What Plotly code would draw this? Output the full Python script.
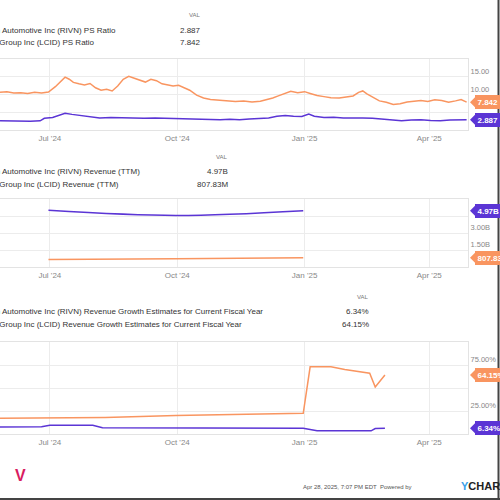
import plotly.graph_objects as go

# --- data --------------------------------------------------------------
ps_dates_lcid = [
    "2024-05-26", "2024-05-31", "2024-06-05", "2024-06-10", "2024-06-15", "2024-06-20",
    "2024-06-25", "2024-06-30", "2024-07-05", "2024-07-09", "2024-07-12", "2024-07-15",
    "2024-07-18", "2024-07-22", "2024-07-26", "2024-07-30", "2024-08-03", "2024-08-07",
    "2024-08-11", "2024-08-15", "2024-08-19", "2024-08-23", "2024-08-27", "2024-08-31",
    "2024-09-04", "2024-09-08", "2024-09-12", "2024-09-16", "2024-09-20", "2024-09-24",
    "2024-09-28", "2024-10-02", "2024-10-06", "2024-10-10", "2024-10-15", "2024-10-20",
    "2024-10-25", "2024-10-31", "2024-11-06", "2024-11-12", "2024-11-18", "2024-11-24",
    "2024-11-30", "2024-12-05", "2024-12-09", "2024-12-13", "2024-12-18", "2024-12-22",
    "2024-12-27", "2025-01-01", "2025-01-05", "2025-01-10", "2025-01-15", "2025-01-20",
    "2025-01-26", "2025-01-31", "2025-02-05", "2025-02-09", "2025-02-12", "2025-02-15",
    "2025-02-19", "2025-02-24", "2025-03-01", "2025-03-06", "2025-03-11", "2025-03-16",
    "2025-03-21", "2025-03-26", "2025-03-31", "2025-04-05", "2025-04-10", "2025-04-15",
    "2025-04-20", "2025-04-24", "2025-04-28",
]
ps_lcid = [
    10.6, 10.8, 10.4, 10.5, 10.3, 10.6, 10.4, 10.7, 12.2, 13.6, 14.9, 14.3,
    13.4, 13.0, 12.7, 13.1, 11.9, 11.2, 11.5, 11.0, 12.4, 14.3, 15.1, 14.6,
    14.0, 13.5, 14.3, 13.9, 13.0, 12.6, 12.4, 12.6, 11.9, 11.2, 9.8, 9.0,
    8.6, 8.4, 8.1, 8.0, 8.2, 7.9, 8.1, 8.5, 9.0, 9.6, 10.4, 10.9,
    10.5, 10.8, 10.3, 9.7, 9.4, 9.1, 9.0, 9.3, 9.6, 10.6, 11.0, 10.2,
    9.2, 8.2, 7.8, 7.2, 7.4, 7.9, 8.1, 8.3, 8.0, 8.5, 8.3, 7.8,
    8.2, 8.6, 7.842,
]
ps_dates_rivn = [
    "2024-05-26", "2024-06-03", "2024-06-10", "2024-06-17", "2024-06-24", "2024-06-27",
    "2024-07-03", "2024-07-09", "2024-07-12", "2024-07-17", "2024-07-23", "2024-07-30",
    "2024-08-06", "2024-08-14", "2024-08-22", "2024-08-30", "2024-09-07", "2024-09-15",
    "2024-09-23", "2024-10-01", "2024-10-08", "2024-10-16", "2024-10-24", "2024-11-01",
    "2024-11-08", "2024-11-15", "2024-11-22", "2024-11-29", "2024-12-06", "2024-12-12",
    "2024-12-18", "2024-12-24", "2024-12-30", "2025-01-04", "2025-01-08", "2025-01-15",
    "2025-01-22", "2025-01-29", "2025-02-05", "2025-02-12", "2025-02-19", "2025-02-26",
    "2025-03-05", "2025-03-12", "2025-03-19", "2025-03-26", "2025-04-02", "2025-04-09",
    "2025-04-16", "2025-04-23", "2025-04-28",
]
ps_rivn = [
    2.6, 2.5, 2.6, 2.5, 2.6, 3.3, 3.5, 4.2, 4.7, 4.4, 4.1, 3.8,
    3.4, 3.5, 3.4, 3.5, 3.3, 3.4, 3.3, 3.2, 3.0, 2.9, 2.9, 2.9,
    3.0, 2.9, 3.1, 3.2, 3.4, 3.9, 4.1, 3.9, 3.8, 4.5, 3.9, 3.5,
    3.6, 3.4, 3.5, 3.4, 3.3, 3.1, 2.9, 2.6, 2.8, 2.9, 2.7, 2.6,
    2.8, 2.9, 2.887,
]

rev_dates = ["2024-06-30", "2024-09-30", "2024-12-31"]
rev_rivn = [5.01e9, 4.55e9, 4.97e9]
rev_lcid = [668.3e6, 730.5e6, 807.83e6]

gr_dates_lcid = [
    "2024-05-26", "2024-07-01", "2024-08-10", "2024-09-30", "2024-11-15", "2024-12-31",
    "2025-01-05", "2025-01-20", "2025-01-30", "2025-02-17", "2025-02-21", "2025-02-24",
    "2025-02-28",
]
gr_lcid = [17.0, 17.5, 18.0, 20.0, 21.5, 22.5, 73.0, 73.0, 70.0, 66.0, 51.0, 57.0, 64.15]
gr_dates_rivn = [
    "2024-05-26", "2024-06-25", "2024-07-01", "2024-07-20", "2024-08-01", "2024-08-08",
    "2024-09-15", "2024-11-01", "2024-12-15", "2024-12-31", "2025-01-10", "2025-02-10",
    "2025-02-18", "2025-02-21", "2025-02-28",
]
gr_rivn = [7.6, 7.8, 9.6, 9.8, 9.6, 6.8, 6.6, 6.4, 6.3, 6.2, 3.5, 3.2, 3.4, 5.9, 6.34]

names_ps = ["Rivian Automotive Inc (RIVN) PS Ratio", "Lucid Group Inc (LCID) PS Ratio"]
vals_ps = ["2.887", "7.842"]
names_rev = ["Rivian Automotive Inc (RIVN) Revenue (TTM)", "Lucid Group Inc (LCID) Revenue (TTM)"]
vals_rev = ["4.97B", "807.83M"]
names_gr = ["Rivian Automotive Inc (RIVN) Revenue Growth Estimates for Current Fiscal Year",
            "Lucid Group Inc (LCID) Revenue Growth Estimates for Current Fiscal Year"]
vals_gr = ["6.34%", "64.15%"]

x_ticks = ["2024-07-01", "2024-10-01", "2025-01-01", "2025-04-01"]
x_labels = ["Jul '24", "Oct '24", "Jan '25", "Apr '25"]

PURPLE = "#5b35d5"
ORANGE = "#f99560"
W, H = 500, 500
PLOT_W = 468  # plot right edge in px


def px(x):
    return x / PLOT_W


def py(y):
    return 1 - y / H


fig = go.Figure()

# panel 1: PS ratio
fig.add_trace(go.Scatter(x=ps_dates_rivn, y=ps_rivn, mode="lines", line=dict(color=PURPLE, width=1.5),
                         xaxis="x", yaxis="y"))
fig.add_trace(go.Scatter(x=ps_dates_lcid, y=ps_lcid, mode="lines", line=dict(color=ORANGE, width=1.5),
                         xaxis="x", yaxis="y"))
# panel 2: revenue
fig.add_trace(go.Scatter(x=rev_dates, y=rev_rivn, mode="lines", line=dict(color=PURPLE, width=1.5, shape="spline"),
                         xaxis="x2", yaxis="y2"))
fig.add_trace(go.Scatter(x=rev_dates, y=rev_lcid, mode="lines", line=dict(color=ORANGE, width=1.5, shape="spline"),
                         xaxis="x2", yaxis="y2"))
# panel 3: growth estimates
fig.add_trace(go.Scatter(x=gr_dates_rivn, y=gr_rivn, mode="lines", line=dict(color=PURPLE, width=1.5),
                         xaxis="x3", yaxis="y3"))
fig.add_trace(go.Scatter(x=gr_dates_lcid, y=gr_lcid, mode="lines", line=dict(color=ORANGE, width=1.5),
                         xaxis="x3", yaxis="y3"))

x_range = ["2024-05-26", "2025-04-29"]
xcommon = dict(range=x_range, tickvals=x_ticks, ticktext=x_labels, showgrid=True, gridcolor="#ececec",
               showline=True, mirror=True, linecolor="#e3e3e3", ticks="", zeroline=False,
               tickfont=dict(size=8, color="#888"), domain=[0, 1])
ycommon = dict(side="right", showgrid=True, gridcolor="#ececec", showline=True, mirror=True,
               linecolor="#e3e3e3", zeroline=False, ticks="", ticklabelposition="outside top",
               tickfont=dict(size=7.5, color="#888"))

fig.update_layout(
    width=W, height=H,
    margin=dict(l=0, r=W - PLOT_W, t=0, b=0),
    paper_bgcolor="white", plot_bgcolor="white",
    showlegend=False,
    font=dict(family="Liberation Sans, Arial, sans-serif"),
    xaxis=dict(xcommon, anchor="y"),
    xaxis2=dict(xcommon, anchor="y2"),
    xaxis3=dict(xcommon, anchor="y3"),
    yaxis=dict(ycommon, domain=[py(130), py(59)], range=[0, 20], tickvals=[0, 5, 10, 15, 20],
               ticktext=["", "", "10.00", "15.00", ""], anchor="x"),
    yaxis2=dict(ycommon, domain=[py(267), py(199)], range=[0, 6e9], tickvals=[0, 1.5e9, 3e9, 4.5e9, 6e9],
                ticktext=["", "1.50B", "3.00B", "", ""], anchor="x2"),
    yaxis3=dict(ycommon, domain=[py(434), py(342)], range=[0, 100], tickvals=[0, 25, 50, 75, 100],
                ticktext=["", "25.00%", "", "75.00%", ""], anchor="x3"),
)

ann = []
# legend-like tables above each panel (left part cropped like the source)
tables = [
    (names_ps, vals_ps, 15, 30, 43, 203),
    (names_rev, vals_rev, 157, 171, 184, 230),
    (names_gr, vals_gr, 297, 311, 324, 371),
]
for names, vals, yh, y1, y2, xv in tables:
    ann.append(dict(text="VAL", x=px(xv), y=py(yh), xanchor="right", yanchor="middle",
                    font=dict(size=6, color="#777")))
    for name, val, yy in zip(names, vals, [y1, y2]):
        ann.append(dict(text=name, x=px(-24), y=py(yy), xanchor="left", yanchor="middle",
                        font=dict(size=8, color="#333")))
        ann.append(dict(text=val, x=px(xv), y=py(yy), xanchor="right", yanchor="middle",
                        font=dict(size=8, color="#333")))

# value tags on the right edge
tag_specs = [
    ("y", ps_rivn[-1], vals_ps[0], PURPLE),
    ("y", ps_lcid[-1], vals_ps[1], ORANGE),
    ("y2", rev_rivn[-1], vals_rev[0], PURPLE),
    ("y2", rev_lcid[-1], vals_rev[1], ORANGE),
    ("y3", gr_rivn[-1], vals_gr[0], PURPLE),
    ("y3", gr_lcid[-1], vals_gr[1], ORANGE),
]
for yref, yv, label, col in tag_specs:
    ann.append(dict(text="<b>%s</b>" % label, xref="paper", x=px(PLOT_W + 2), yref=yref, y=yv,
                    xanchor="left", yanchor="middle", showarrow=True, ax=5, ay=0,
                    arrowhead=1, arrowsize=2, arrowwidth=1, arrowcolor=col, standoff=0,
                    bgcolor=col, bordercolor=col, borderpad=1.5,
                    font=dict(size=8, color="white")))

# footer
ann.append(dict(text="Apr 28, 2025, 7:07 PM EDT  Powered by", x=px(414), y=py(487),
                xanchor="right", yanchor="middle", font=dict(size=6, color="#555")))
ann.append(dict(text="<b><span style='color:#3aa0e8'>Y</span>CHARTS</b>", x=px(459), y=py(486),
                xanchor="left", yanchor="middle", font=dict(size=11, color="#222")))
ann.append(dict(text="<b><span style='color:#d81b60'>V</span></b>", x=px(20), y=py(475),
                xanchor="center", yanchor="middle", font=dict(size=16, color="#d81b60")))

for a in ann:
    a.setdefault("xref", "paper")
    a.setdefault("yref", "paper")
    a.setdefault("showarrow", False)
fig.update_layout(annotations=ann)

fig.update_layout(shapes=[
    dict(type="line", xref="paper", yref="paper", x0=px(498.5), x1=px(498.5), y0=0, y1=1,
         line=dict(color="#444", width=2)),
    dict(type="line", xref="paper", yref="paper", x0=-0.01, x1=px(500), y0=py(499), y1=py(499),
         line=dict(color="#444", width=2)),
])

# the page body has a default 8px margin; drop it so the chart sits at the window corner
fig.write_html("out.html", config={"displayModeBar": False},
               post_script="document.body.style.margin='0';")
